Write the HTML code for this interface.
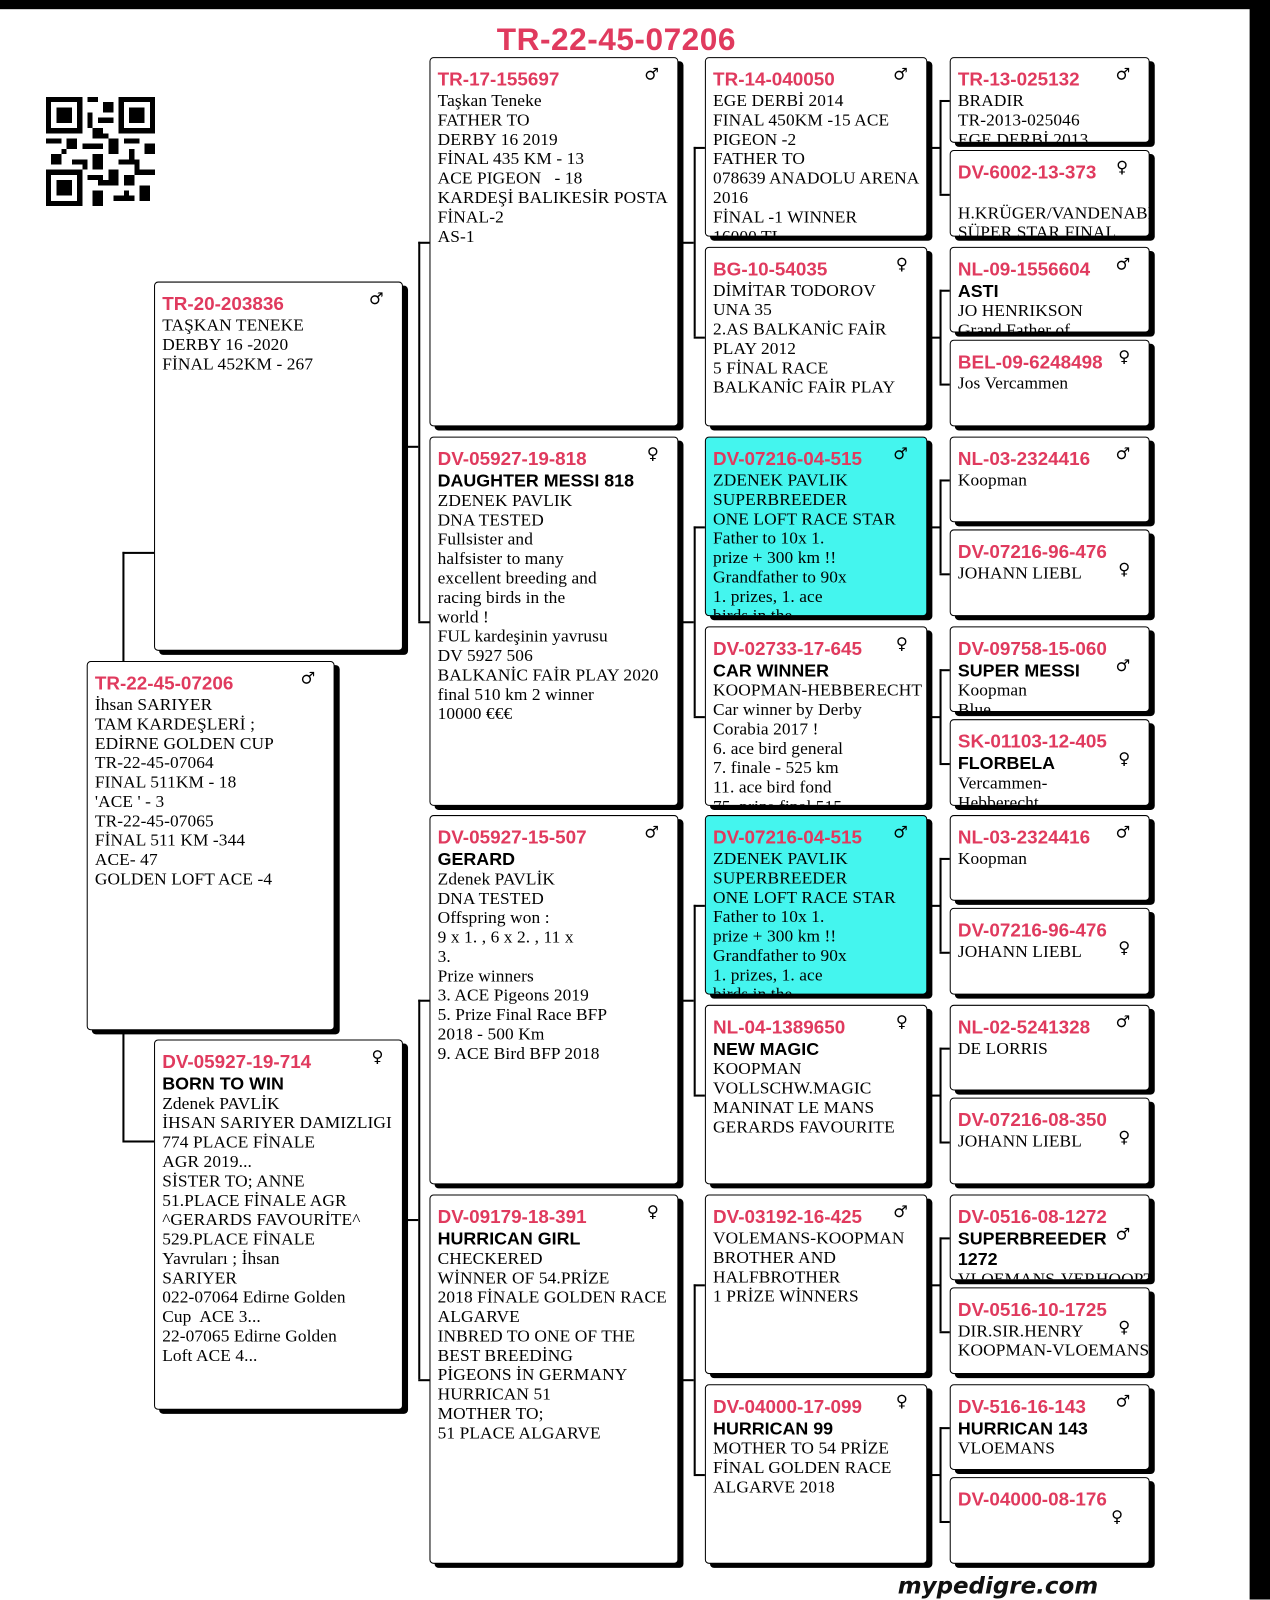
<!DOCTYPE html>
<html><head><meta charset="utf-8">
<style>
html,body{margin:0;padding:0;background:#fff;}
body{width:1270px;height:1599px;overflow:hidden;position:relative;}
#w{position:absolute;left:0;top:0;width:1245px;height:1568px;transform:scale(1.0201);transform-origin:0 0;}
.b{position:absolute;background:#fff;border:1.5px solid #000;border-radius:4px;box-shadow:5px 4px 0 #000;overflow:hidden;box-sizing:border-box;padding:10px 0 0 7px;font-family:"Liberation Serif","DejaVu Serif",serif;font-size:17px;line-height:19px;letter-spacing:0.1px;color:#000;white-space:pre;}
.c{background:#44f5ee;}
.t{font-family:"Liberation Sans","DejaVu Sans",sans-serif;font-weight:bold;color:#e03a5e;font-size:18.5px;line-height:22px;letter-spacing:0;}
.n{font-family:"Liberation Sans","DejaVu Sans",sans-serif;font-weight:bold;font-size:17.5px;line-height:20px;letter-spacing:0;color:#000;}
.g{position:absolute;right:18px;top:6px;font-family:"DejaVu Sans",sans-serif;font-size:16px;}
.l{position:absolute;background:#000;}
</style></head><body><div id="w">
<div class="l" style="left:0;top:0;width:1245px;height:9px"></div>
<div class="l" style="left:1225px;top:0;width:20px;height:1568px"></div>
<div style="position:absolute;left:487px;top:21px;font-family:'Liberation Sans',sans-serif;font-weight:bold;font-size:31px;letter-spacing:0.5px;color:#e03a5e;">TR-22-45-07206</div>
<svg style="position:absolute;left:45px;top:95px" width="107" height="107" viewBox="0 0 21 21" shape-rendering="crispEdges">
<rect width="21" height="21" fill="#fff"/>
<g fill="#000">
<rect x="0" y="0" width="7" height="7"/><rect x="14" y="0" width="7" height="7"/><rect x="0" y="14" width="7" height="7"/>
</g><g fill="#fff"><rect x="1" y="1" width="5" height="5"/><rect x="15" y="1" width="5" height="5"/><rect x="1" y="15" width="5" height="5"/></g>
<g fill="#000"><rect x="2" y="2" width="3" height="3"/><rect x="16" y="2" width="3" height="3"/><rect x="2" y="16" width="3" height="3"/>
<rect x="8" y="0" width="2" height="1"/><rect x="11" y="1" width="2" height="2"/><rect x="8" y="3" width="1" height="3"/><rect x="10" y="4" width="3" height="1"/><rect x="9" y="6" width="2" height="2"/><rect x="0" y="8" width="3" height="1"/><rect x="4" y="8" width="2" height="2"/><rect x="7" y="9" width="4" height="1"/><rect x="12" y="8" width="2" height="3"/><rect x="15" y="8" width="3" height="1"/><rect x="19" y="9" width="2" height="2"/><rect x="1" y="11" width="2" height="2"/><rect x="5" y="12" width="3" height="1"/><rect x="9" y="11" width="2" height="3"/><rect x="14" y="12" width="4" height="1"/><rect x="16" y="10" width="1" height="2"/><rect x="8" y="15" width="3" height="1"/><rect x="12" y="14" width="2" height="3"/><rect x="15" y="15" width="2" height="2"/><rect x="18" y="14" width="3" height="1"/><rect x="9" y="18" width="2" height="3"/><rect x="13" y="19" width="4" height="1"/><rect x="18" y="17" width="2" height="3"/><rect x="15" y="18" width="1" height="1"/>
<rect x="7" y="12" width="1" height="2"/><rect x="10" y="16" width="2" height="1"/><rect x="17" y="12" width="1" height="3"/><rect x="3" y="10" width="1" height="1"/><rect x="11" y="7" width="1" height="1"/></g>
</svg>

<!-- connectors -->
<div class="l" style="left:120px;top:541px;width:1.5px;height:577px"></div>
<div class="l" style="left:120px;top:541px;width:31px;height:1.5px"></div>
<div class="l" style="left:120px;top:1118px;width:31px;height:1.5px"></div>

<div class="l" style="left:410px;top:237px;width:1.5px;height:372px"></div>
<div class="l" style="left:395px;top:437px;width:15px;height:1.5px"></div>
<div class="l" style="left:410px;top:237px;width:11px;height:1.5px"></div>
<div class="l" style="left:410px;top:609px;width:11px;height:1.5px"></div>
<div class="l" style="left:410px;top:980px;width:1.5px;height:372px"></div>
<div class="l" style="left:395px;top:1195px;width:15px;height:1.5px"></div>
<div class="l" style="left:410px;top:980px;width:11px;height:1.5px"></div>
<div class="l" style="left:410px;top:1352px;width:11px;height:1.5px"></div>

<div class="l" style="left:680px;top:144px;width:1.5px;height:186px"></div>
<div class="l" style="left:665px;top:237px;width:15px;height:1.5px"></div>
<div class="l" style="left:680px;top:144px;width:11px;height:1.5px"></div>
<div class="l" style="left:680px;top:330px;width:11px;height:1.5px"></div>
<div class="l" style="left:680px;top:516px;width:1.5px;height:186px"></div>
<div class="l" style="left:665px;top:609px;width:15px;height:1.5px"></div>
<div class="l" style="left:680px;top:516px;width:11px;height:1.5px"></div>
<div class="l" style="left:680px;top:702px;width:11px;height:1.5px"></div>
<div class="l" style="left:680px;top:887px;width:1.5px;height:186px"></div>
<div class="l" style="left:665px;top:980px;width:15px;height:1.5px"></div>
<div class="l" style="left:680px;top:887px;width:11px;height:1.5px"></div>
<div class="l" style="left:680px;top:1073px;width:11px;height:1.5px"></div>
<div class="l" style="left:680px;top:1259px;width:1.5px;height:186px"></div>
<div class="l" style="left:665px;top:1352px;width:15px;height:1.5px"></div>
<div class="l" style="left:680px;top:1259px;width:11px;height:1.5px"></div>
<div class="l" style="left:680px;top:1445px;width:11px;height:1.5px"></div>

<div class="l" style="left:921px;top:98px;width:1.5px;height:92px"></div>
<div class="l" style="left:909px;top:144px;width:12px;height:1.5px"></div>
<div class="l" style="left:921px;top:98px;width:10px;height:1.5px"></div>
<div class="l" style="left:921px;top:190px;width:10px;height:1.5px"></div>
<div class="l" style="left:921px;top:284px;width:1.5px;height:92px"></div>
<div class="l" style="left:909px;top:330px;width:12px;height:1.5px"></div>
<div class="l" style="left:921px;top:284px;width:10px;height:1.5px"></div>
<div class="l" style="left:921px;top:376px;width:10px;height:1.5px"></div>
<div class="l" style="left:921px;top:470px;width:1.5px;height:92px"></div>
<div class="l" style="left:909px;top:516px;width:12px;height:1.5px"></div>
<div class="l" style="left:921px;top:470px;width:10px;height:1.5px"></div>
<div class="l" style="left:921px;top:562px;width:10px;height:1.5px"></div>
<div class="l" style="left:921px;top:656px;width:1.5px;height:92px"></div>
<div class="l" style="left:909px;top:702px;width:12px;height:1.5px"></div>
<div class="l" style="left:921px;top:656px;width:10px;height:1.5px"></div>
<div class="l" style="left:921px;top:748px;width:10px;height:1.5px"></div>
<div class="l" style="left:921px;top:841px;width:1.5px;height:92px"></div>
<div class="l" style="left:909px;top:887px;width:12px;height:1.5px"></div>
<div class="l" style="left:921px;top:841px;width:10px;height:1.5px"></div>
<div class="l" style="left:921px;top:933px;width:10px;height:1.5px"></div>
<div class="l" style="left:921px;top:1027px;width:1.5px;height:92px"></div>
<div class="l" style="left:909px;top:1073px;width:12px;height:1.5px"></div>
<div class="l" style="left:921px;top:1027px;width:10px;height:1.5px"></div>
<div class="l" style="left:921px;top:1119px;width:10px;height:1.5px"></div>
<div class="l" style="left:921px;top:1213px;width:1.5px;height:92px"></div>
<div class="l" style="left:909px;top:1259px;width:12px;height:1.5px"></div>
<div class="l" style="left:921px;top:1213px;width:10px;height:1.5px"></div>
<div class="l" style="left:921px;top:1305px;width:10px;height:1.5px"></div>
<div class="l" style="left:921px;top:1399px;width:1.5px;height:92px"></div>
<div class="l" style="left:909px;top:1445px;width:12px;height:1.5px"></div>
<div class="l" style="left:921px;top:1399px;width:10px;height:1.5px"></div>
<div class="l" style="left:921px;top:1491px;width:10px;height:1.5px"></div>

<!-- col0 -->
<div class="b" style="left:85px;top:648px;width:243px;height:362px"><span class="g">♂</span><div class="t">TR-22-45-07206</div>İhsan SARIYER
TAM KARDEŞLERİ ;
EDİRNE GOLDEN CUP
TR-22-45-07064
FINAL 511KM - 18
'ACE ' - 3
TR-22-45-07065
FİNAL 511 KM -344
ACE- 47
GOLDEN LOFT ACE -4</div>

<!-- col1 -->
<div class="b" style="left:151px;top:276px;width:244px;height:362px"><span class="g">♂</span><div class="t">TR-20-203836</div>TAŞKAN TENEKE
DERBY 16 -2020
FİNAL 452KM - 267</div>
<div class="b" style="left:151px;top:1019px;width:244px;height:363px"><span class="g">♀</span><div class="t">DV-05927-19-714</div><div class="n">BORN TO WIN</div>Zdenek PAVLİK
İHSAN SARIYER DAMIZLIGI
774 PLACE FİNALE
AGR 2019...
SİSTER TO; ANNE
51.PLACE FİNALE AGR
^GERARDS FAVOURİTE^
529.PLACE FİNALE
Yavruları ; İhsan
SARIYER
022-07064 Edirne Golden
Cup  ACE 3...
22-07065 Edirne Golden
Loft ACE 4...</div>

<!-- col2 -->
<div class="b" style="left:421px;top:56px;width:244px;height:362px"><span class="g">♂</span><div class="t">TR-17-155697</div>Taşkan Teneke
FATHER TO
DERBY 16 2019
FİNAL 435 KM - 13
ACE PIGEON   - 18
KARDEŞİ BALIKESİR POSTA
FİNAL-2
AS-1</div>
<div class="b" style="left:421px;top:428px;width:244px;height:362px"><span class="g">♀</span><div class="t">DV-05927-19-818</div><div class="n">DAUGHTER MESSI 818</div>ZDENEK PAVLIK
DNA TESTED
Fullsister and
halfsister to many
excellent breeding and
racing birds in the
world !
FUL kardeşinin yavrusu
DV 5927 506
BALKANİC FAİR PLAY 2020
final 510 km 2 winner
10000 €€€</div>
<div class="b" style="left:421px;top:799px;width:244px;height:362px"><span class="g">♂</span><div class="t">DV-05927-15-507</div><div class="n">GERARD</div>Zdenek PAVLİK
DNA TESTED
Offspring won :
9 x 1. , 6 x 2. , 11 x
3.
Prize winners
3. ACE Pigeons 2019
5. Prize Final Race BFP
2018 - 500 Km
9. ACE Bird BFP 2018</div>
<div class="b" style="left:421px;top:1171px;width:244px;height:362px"><span class="g">♀</span><div class="t">DV-09179-18-391</div><div class="n">HURRICAN GIRL</div>CHECKERED
WİNNER OF 54.PRİZE
2018 FİNALE GOLDEN RACE
ALGARVE
INBRED TO ONE OF THE
BEST BREEDİNG
PİGEONS İN GERMANY
HURRICAN 51
MOTHER TO;
51 PLACE ALGARVE</div>

<!-- col3 -->
<div class="b" style="left:691px;top:56px;width:218px;height:176px"><span class="g">♂</span><div class="t">TR-14-040050</div>EGE DERBİ 2014
FINAL 450KM -15 ACE
PIGEON -2
FATHER TO
078639 ANADOLU ARENA
2016
FİNAL -1 WINNER
16000 TL</div>
<div class="b" style="left:691px;top:242px;width:218px;height:176px"><span class="g">♀</span><div class="t">BG-10-54035</div>DİMİTAR TODOROV
UNA 35
2.AS BALKANİC FAİR
PLAY 2012
5 FİNAL RACE
BALKANİC FAİR PLAY</div>
<div class="b c" style="left:691px;top:428px;width:218px;height:176px"><span class="g">♂</span><div class="t">DV-07216-04-515</div>ZDENEK PAVLIK
SUPERBREEDER
ONE LOFT RACE STAR
Father to 10x 1.
prize + 300 km !!
Grandfather to 90x
1. prizes, 1. ace
birds in the</div>
<div class="b" style="left:691px;top:614px;width:218px;height:176px"><span class="g">♀</span><div class="t">DV-02733-17-645</div><div class="n">CAR WINNER</div>KOOPMAN-HEBBERECHT
Car winner by Derby
Corabia 2017 !
6. ace bird general
7. finale - 525 km
11. ace bird fond
75. prize final 515</div>
<div class="b c" style="left:691px;top:799px;width:218px;height:176px"><span class="g">♂</span><div class="t">DV-07216-04-515</div>ZDENEK PAVLIK
SUPERBREEDER
ONE LOFT RACE STAR
Father to 10x 1.
prize + 300 km !!
Grandfather to 90x
1. prizes, 1. ace
birds in the</div>
<div class="b" style="left:691px;top:985px;width:218px;height:176px"><span class="g">♀</span><div class="t">NL-04-1389650</div><div class="n">NEW MAGIC</div>KOOPMAN
VOLLSCHW.MAGIC
MANINAT LE MANS
GERARDS FAVOURITE</div>
<div class="b" style="left:691px;top:1171px;width:218px;height:176px"><span class="g">♂</span><div class="t">DV-03192-16-425</div>VOLEMANS-KOOPMAN
BROTHER AND
HALFBROTHER
1 PRİZE WİNNERS</div>
<div class="b" style="left:691px;top:1357px;width:218px;height:176px"><span class="g">♀</span><div class="t">DV-04000-17-099</div><div class="n">HURRICAN 99</div>MOTHER TO 54 PRİZE
FİNAL GOLDEN RACE
ALGARVE 2018</div>

<!-- col4 -->
<div class="b" style="left:931px;top:56px;width:196px;height:84px"><span class="g">♂</span><div class="t">TR-13-025132</div>BRADIR
TR-2013-025046
EGE DERBİ 2013</div>
<div class="b" style="left:931px;top:147px;width:196px;height:85px"><span class="g" style="right:20px">♀</span><div class="t">DV-6002-13-373</div>
H.KRÜGER/VANDENABLE
SÜPER STAR FINAL</div>
<div class="b" style="left:931px;top:242px;width:196px;height:84px"><span class="g">♂</span><div class="t">NL-09-1556604</div><div class="n">ASTI</div>JO HENRIKSON
Grand Father of</div>
<div class="b" style="left:931px;top:333px;width:196px;height:85px"><span class="g">♀</span><div class="t">BEL-09-6248498</div>Jos Vercammen</div>
<div class="b" style="left:931px;top:428px;width:196px;height:84px"><span class="g">♂</span><div class="t">NL-03-2324416</div>Koopman</div>
<div class="b" style="left:931px;top:519px;width:196px;height:85px"><span class="g" style="top:28px">♀</span><div class="t">DV-07216-96-476</div>JOHANN LIEBL</div>
<div class="b" style="left:931px;top:614px;width:196px;height:84px"><span class="g" style="top:28px">♂</span><div class="t">DV-09758-15-060</div><div class="n">SUPER MESSI</div>Koopman
Blue</div>
<div class="b" style="left:931px;top:705px;width:196px;height:85px"><span class="g" style="top:28px">♀</span><div class="t">SK-01103-12-405</div><div class="n">FLORBELA</div>Vercammen-
Hebberecht</div>
<div class="b" style="left:931px;top:799px;width:196px;height:84px"><span class="g">♂</span><div class="t">NL-03-2324416</div>Koopman</div>
<div class="b" style="left:931px;top:890px;width:196px;height:85px"><span class="g" style="top:28px">♀</span><div class="t">DV-07216-96-476</div>JOHANN LIEBL</div>
<div class="b" style="left:931px;top:985px;width:196px;height:84px"><span class="g">♂</span><div class="t">NL-02-5241328</div>DE LORRIS</div>
<div class="b" style="left:931px;top:1076px;width:196px;height:85px"><span class="g" style="top:28px">♀</span><div class="t">DV-07216-08-350</div>JOHANN LIEBL</div>
<div class="b" style="left:931px;top:1171px;width:196px;height:84px"><span class="g" style="top:28px">♂</span><div class="t">DV-0516-08-1272</div><div class="n">SUPERBREEDER
1272</div>VLOEMANS-VERHOOPT</div>
<div class="b" style="left:931px;top:1262px;width:196px;height:85px"><span class="g" style="top:28px">♀</span><div class="t">DV-0516-10-1725</div>DIR.SIR.HENRY
KOOPMAN-VLOEMANS</div>
<div class="b" style="left:931px;top:1357px;width:196px;height:84px"><span class="g">♂</span><div class="t">DV-516-16-143</div><div class="n">HURRICAN 143</div>VLOEMANS</div>
<div class="b" style="left:931px;top:1448px;width:196px;height:85px"><span class="g" style="top:28px;right:25px">♀</span><div class="t">DV-04000-08-176</div></div>

<div style="position:absolute;left:880px;top:1542px;font-family:'DejaVu Sans','Liberation Sans',sans-serif;font-weight:bold;font-style:italic;font-size:22.5px;color:#111;">mypedigre.com</div>
</div></body></html>
